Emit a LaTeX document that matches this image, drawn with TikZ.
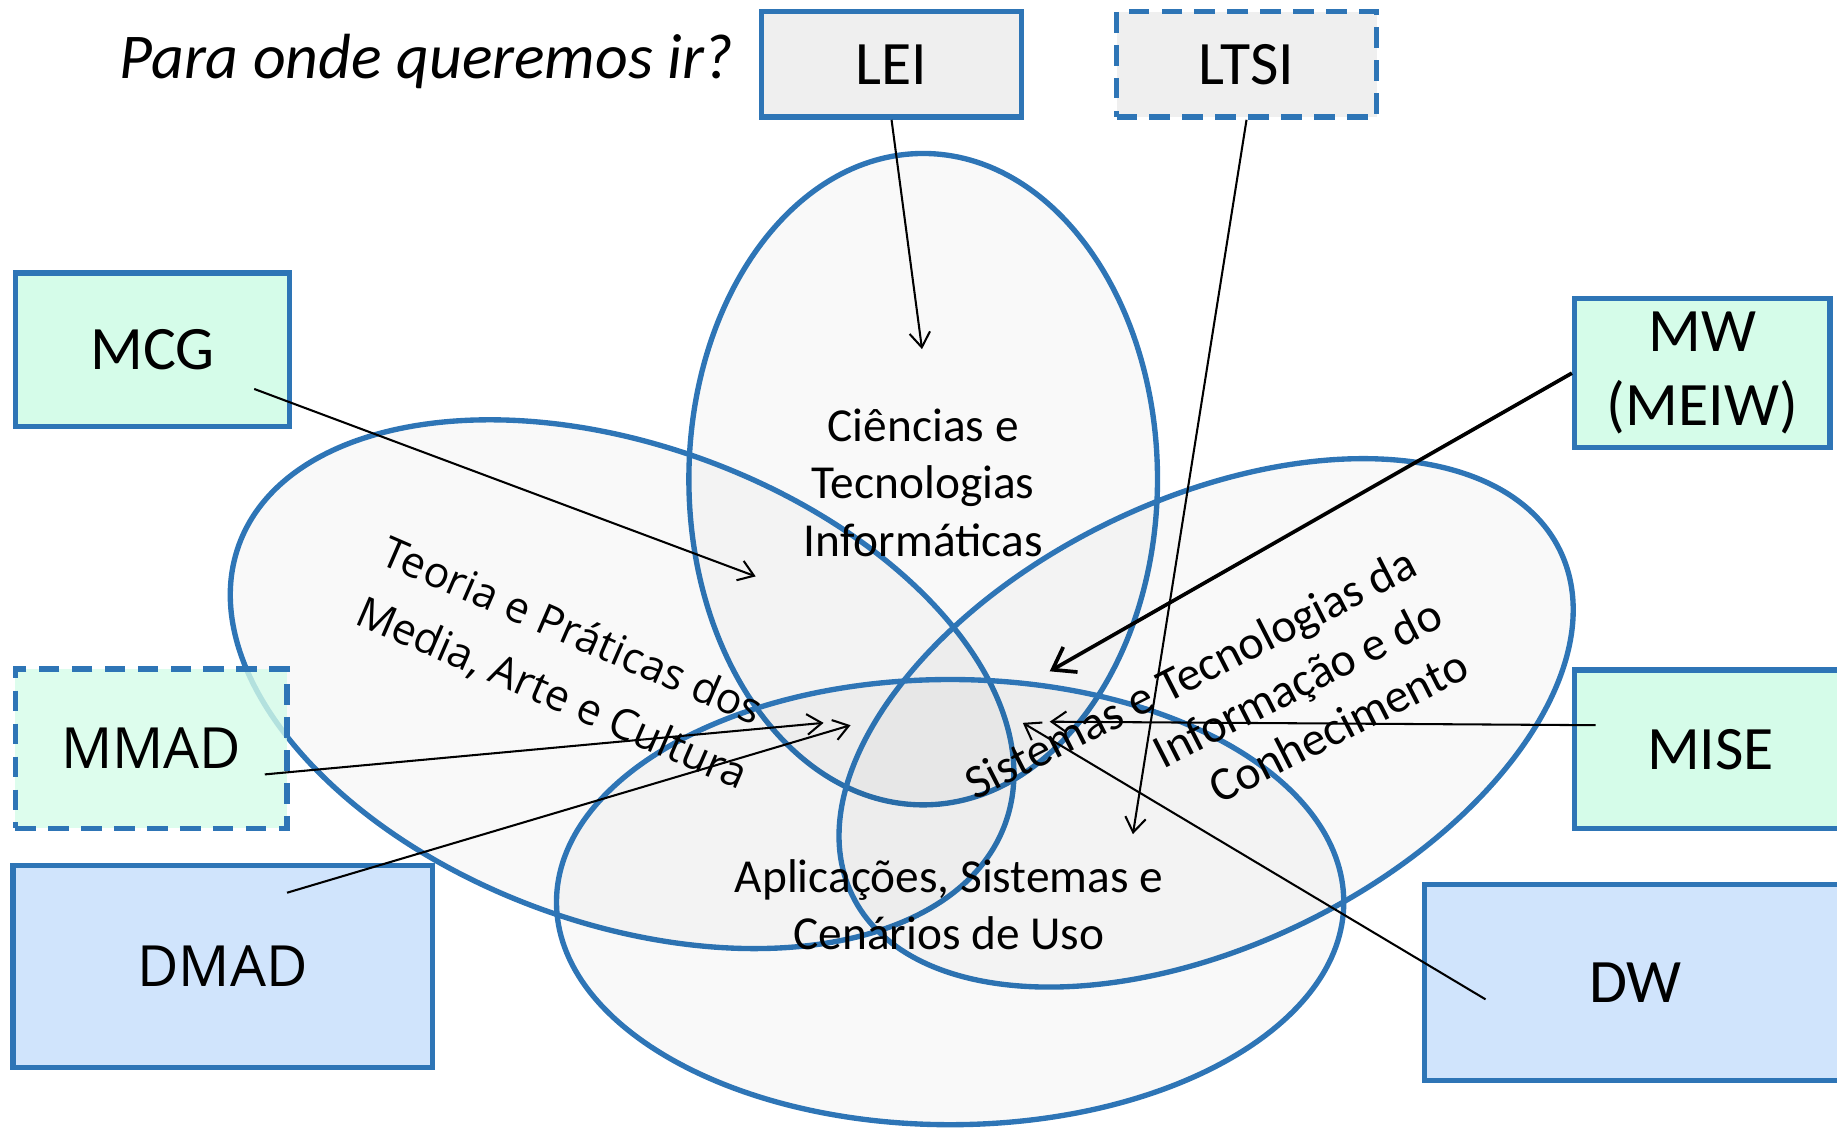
\documentclass[tikz,border=0pt]{standalone}
\usepackage{fontspec}
\setmainfont{Carlito}
\newfontfamily\opensans{Open Sans}
\usetikzlibrary{arrows.meta}
\definecolor{rim}{HTML}{2E75B6}
\definecolor{mint}{HTML}{D5FCE9}
\definecolor{sky}{HTML}{D0E4FC}
\definecolor{pale}{HTML}{EFEFEF}
\begin{document}
\begin{tikzpicture}[x=0.1mm,y=-0.1mm,
  area/.style={draw=rim,line width=1.3pt,fill=black,fill opacity=0.022},
  course/.style={draw=rim,line width=1.3pt,inner sep=0pt,align=center,font=\fontsize{15}{18}\selectfont},
  dashbox/.style={course,dash pattern=on 5pt off 3pt},
  wide/.style={font=\opensans\fontsize{13.8}{16}\selectfont},
  pointer/.style={-{Straight Barb[length=3.6pt,width=5pt]},line width=0.5pt}]
\path[use as bounding box,clip] (0,0) rectangle (1568,963);
% areas
\draw[area] (788,409) ellipse [x radius=200,y radius=278];
\draw[area,rotate around={-20:(531,584)}] (531,584) ellipse [x radius=348,y radius=204];
\draw[area,rotate around={26:(1029.5,617)}] (1029.5,617) ellipse [x radius=336,y radius=190];
\draw[area] (811,770) ellipse [x radius=336,y radius=190];
% courses
\node[course,fill=pale,minimum width=22.2mm,minimum height=9mm] (LEI) at (761,55) {LEI};
\node[dashbox,fill=pale,minimum width=22.2mm,minimum height=9mm] (LTSI) at (1064,55) {LTSI};
\node[course,fill=mint,minimum width=23.4mm,minimum height=13.1mm] (MCG) at (130,298.5) {MCG};
\node[course,fill=mint,minimum width=21.8mm,minimum height=12.7mm] (MW) at (1453,318.5) {MW\\(MEIW)};
\node[dashbox,wide,fill=mint,fill opacity=0.8,text opacity=1,minimum width=23.2mm,minimum height=13.6mm] (MMAD) at (129,639) {MMAD};
\node[course,fill=mint,minimum width=23.2mm,minimum height=13.5mm] (MISE) at (1460,639.5) {MISE};
\node[course,wide,fill=sky,minimum width=35.8mm,minimum height=17.2mm] (DMAD) at (190,825) {DMAD};
\node[course,fill=sky,minimum width=36mm,minimum height=16.7mm] (DW) at (1396,838.5) {DW};
% labels
\node[anchor=base,font=\itshape\fontsize{15.5}{18}\selectfont] (ask) at (364,67) {Para onde queremos ir?};
\node[align=center,font=\fontsize{11.5}{13.9}\selectfont] (cti) at (788,412) {Ciências e\\Tecnologias\\Informáticas};
\node[align=left,rotate=-23.4,font=\opensans\fontsize{10.4}{15.8}\selectfont] (tpm) at (482,567) {Teoria e Práticas dos\\Media, Arte e Cultura};
\node[align=right,rotate=27,font=\fontsize{11.6}{13.9}\selectfont] (sti) at (1038,618) {Sistemas e Tecnologias da\\Informação e do\\Conhecimento};
\node[align=center,font=\fontsize{11.5}{13.9}\selectfont] (asc) at (810,772) {Aplicações, Sistemas e\\Cenários de Uso};
% tails and tips
\coordinate (mcgTail) at (217,332);
\coordinate (miseTail) at (1362,619);
\coordinate (dwTail) at (1268,853);
\coordinate (mmadTail) at (226,661);
\coordinate (dmadTail) at (245,762);
\coordinate (leiTip) at (787,298);
\coordinate (ltsiTip) at (967,712);
\coordinate (mcgTip) at (645,492);
\coordinate (mwTip) at (896,573);
\coordinate (miseTip) at (896,616);
\coordinate (dwTip) at (873,617);
\coordinate (mmadTip) at (703,617);
\coordinate (dmadTip) at (726,619);
\foreach \from/\to in {LEI.south/leiTip,LTSI.south/ltsiTip,mcgTail/mcgTip,miseTail/miseTip,dwTail/dwTip,mmadTail/mmadTip,dmadTail/dmadTip}
  \draw[pointer] (\from) -- (\to);
\draw[pointer,line width=0.9pt,-{Straight Barb[length=5pt,width=7pt]}] (MW.west) -- (mwTip);
\end{tikzpicture}
\end{document}
